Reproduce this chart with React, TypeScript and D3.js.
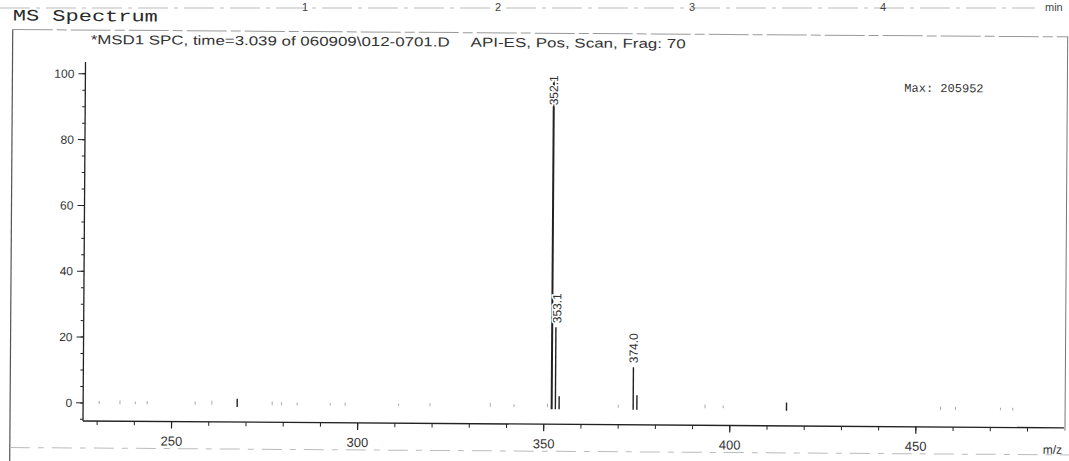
import React from "react";
import * as d3 from "d3";

const peakMz = [352.1, 353.1, 374.0, 375.0, 354.1, 267.6, 415.2];
const peakIntensity = [100, 24, 12, 3.5, 3, 1.6, 1.6];
const labelledMz = [352.1, 353.1, 374.0];
const labelText = ["352.1", "353.1", "374.0"];

const noiseMz = [230.5, 236.1, 240.2, 243.4, 256.3, 260.8, 277.0, 279.5, 283.7, 292.6, 296.6, 311.0, 319.4, 335.6, 342.0, 351.0, 370.0, 393.3, 398.2, 456.6, 460.6, 472.7, 476.0];
const noiseIntensity = [0.6, 0.8, 0.5, 0.7, 0.6, 0.9, 0.8, 0.6, 0.6, 0.5, 0.7, 0.5, 0.6, 0.9, 0.5, 0.8, 0.6, 0.8, 0.6, 0.7, 0.7, 0.5, 0.5];

const yTicks = [0, 20, 40, 60, 80, 100];
const xTicks = [250, 300, 350, 400, 450];
const topTickLabels = ["1", "2", "3", "4"];
const topTickX = [305, 498, 692, 883];

const W = 1069;
const H = 461;
const sans = "'Liberation Sans', Arial, sans-serif";
const mono = "'Liberation Mono', 'DejaVu Sans Mono', monospace";

export default function App() {
  const x = d3.scaleLinear().domain([226.2, 489.8]).range([83, 1064]);
  const y = d3.scaleLinear().domain([-5.5, 103.6]).range([421, 62]);
  const xMinor = d3.range(230, 490, 10);
  const yMinor = d3.range(-5, 104, 5);
  const ink = "#222";

  return (
    <svg width={W} height={H} style={{ position: "absolute", left: 0, top: 0, background: "#fff" }}>
      {/* remnant of chromatogram axis at the top */}
      <line x1={0} x2={1035} y1={8} y2={8} stroke="#bbb" strokeWidth={1} strokeDasharray="30 6 4 6" />
      {topTickLabels.map((t, i) => (
        <text key={t} x={topTickX[i]} y={11} fontFamily={sans} fontSize={11} fill="#444" textAnchor="middle">{t}</text>
      ))}
      <text x={1045} y={11} fontFamily={sans} fontSize={11} fill="#444">min</text>

      <g transform="rotate(0.4 83 421)">
        <text x={10} y={21} fontFamily={mono} fontSize={16} fill="#2a2a2a" textLength={145} lengthAdjust="spacingAndGlyphs">MS Spectrum</text>

        {/* frame */}
        <line x1={10} x2={1065} y1={30} y2={30} stroke="#999" strokeWidth={1} strokeDasharray="40 4 10 4" />
        <line x1={10} x2={10} y1={30} y2={470} stroke="#555" strokeWidth={1.2} />
        <line x1={1065} x2={1065} y1={30} y2={424} stroke="#777" strokeWidth={1} />
        <line x1={10} x2={1069} y1={448} y2={448} stroke="#bbb" strokeWidth={1} strokeDasharray="20 8 6 8" />

        <text x={88} y={44} fontFamily={sans} fontSize={13} fill="#333" textLength={359} lengthAdjust="spacingAndGlyphs">*MSD1 SPC, time=3.039 of 060909\012-0701.D</text>
        <text x={468} y={44} fontFamily={sans} fontSize={13} fill="#333" textLength={215} lengthAdjust="spacingAndGlyphs">API-ES, Pos, Scan, Frag: 70</text>

        <text x={902} y={86} fontFamily={mono} fontSize={12} fill="#333">Max: 205952</text>

        {/* y axis */}
        <line x1={83} x2={83} y1={y(103.6)} y2={y(-5.5)} stroke={ink} strokeWidth={1.3} />
        {yMinor.map((v) => (
          <line key={"ym" + v} x1={80} x2={83} y1={y(v)} y2={y(v)} stroke={ink} strokeWidth={1} />
        ))}
        {yTicks.map((v) => (
          <g key={"yt" + v}>
            <line x1={76} x2={83} y1={y(v)} y2={y(v)} stroke={ink} strokeWidth={1} />
            <text x={72} y={y(v)} dy="0.35em" textAnchor="end" fontFamily={sans} fontSize={12} fill="#333">{v}</text>
          </g>
        ))}

        {/* x axis */}
        <line x1={83} x2={1064} y1={y(-5.5)} y2={y(-5.5)} stroke={ink} strokeWidth={1.3} />
        {xMinor.map((v) => (
          <line key={"xm" + v} x1={x(v)} x2={x(v)} y1={421} y2={425} stroke={ink} strokeWidth={1} />
        ))}
        {xTicks.map((v) => (
          <g key={"xt" + v}>
            <line x1={x(v)} x2={x(v)} y1={421} y2={428} stroke={ink} strokeWidth={1.2} />
            <text x={x(v)} y={445} textAnchor="middle" fontFamily={sans} fontSize={13} fill="#333">{v}</text>
          </g>
        ))}
        <text x={1043} y={447} fontFamily={sans} fontSize={12} fill="#333">m/z</text>

        {/* noise */}
        {noiseMz.map((m, i) => (
          <line key={"n" + i} x1={x(m)} x2={x(m)} y1={y(0) + 1} y2={y(noiseIntensity[i])} stroke="#aaa" strokeWidth={1} />
        ))}

        {/* peaks */}
        {peakMz.map((m, i) => (
          <line key={"p" + i} x1={x(m)} x2={x(m)} y1={y(0) + 3} y2={y(peakIntensity[i])} stroke={ink} strokeWidth={i === 0 ? 2 : 1.4} />
        ))}

        {/* peak labels */}
        {labelledMz.map((m, i) => {
          const v = peakIntensity[peakMz.indexOf(m)];
          const yb = Math.max(y(v) - 4, 62 + 40);
          return (
            <text key={"l" + i} transform={`translate(${x(m) + (i === 1 ? 1 : 0)},${yb}) rotate(-90)`} dy="0.35em" fontFamily={sans} fontSize={12} fill="#333" stroke="#fff" strokeWidth={3} paintOrder="stroke">{labelText[i]}</text>
          );
        })}
      </g>
    </svg>
  );
}
